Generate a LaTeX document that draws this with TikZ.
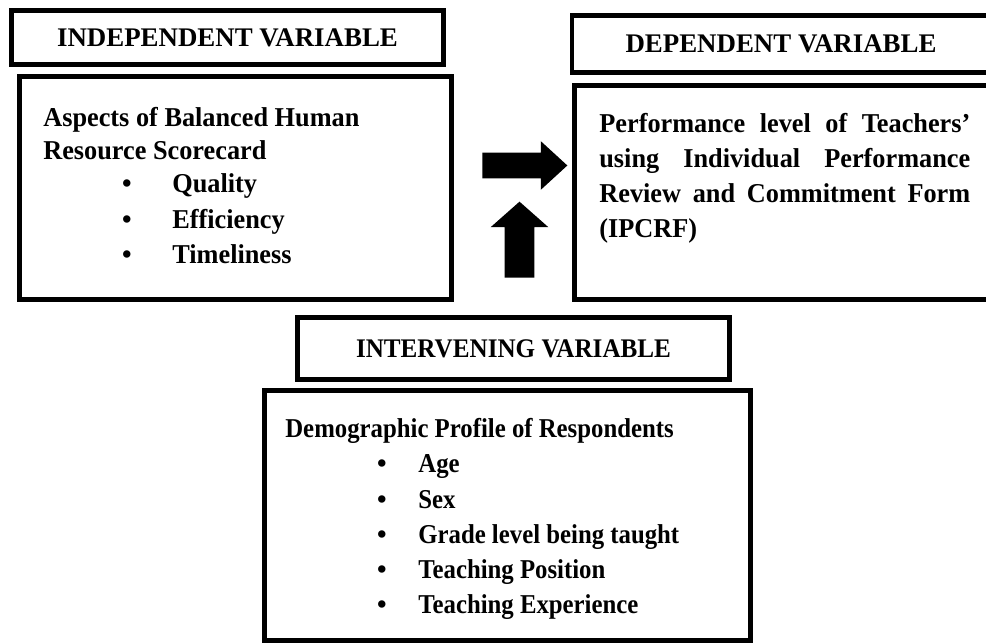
\documentclass[tikz,border=0pt]{standalone}
\usepackage{fontspec}
\setmainfont{Liberation Serif}
\newfontfamily\bodyfont[Ligatures=TeX,FakeStretch=0.965]{Liberation Serif}
\newfontfamily\narrowfont[Ligatures=TeX,FakeStretch=0.91]{Liberation Serif}
\newfontfamily\narrowhead[Ligatures=TeX,FakeStretch=0.935]{Liberation Serif}
\usetikzlibrary{shapes.arrows}

\begin{document}
\begin{tikzpicture}[x=0.02cm,y=-0.02cm,
  box/.style={draw,line width=2.6pt,inner sep=0pt},
  title/.style={font=\fontsize{15.3}{18}\selectfont\bfseries},
  txt/.style={font=\bodyfont\fontsize{15.5}{19.8}\selectfont\bfseries,inner sep=0pt,anchor=base west},
  ntxt/.style={txt,font=\narrowfont\fontsize{15.5}{19.8}\selectfont\bfseries},
  bul/.style={font=\fontsize{15.5}{19.8}\selectfont\bfseries,inner sep=0pt,anchor=base},
  blk/.style={single arrow,fill=black,inner xsep=0pt,text height=0pt,text depth=0pt,anchor=tail}]
  \useasboundingbox (0,0) rectangle (986,644);
  \clip (0,0) rectangle (986,644);

  % heading boxes
  \node[box,title,minimum width=8.64cm,minimum height=1.08cm] (indHead) at (227.5,37.5) {INDEPENDENT VARIABLE};
  \node[box,title,minimum width=8.36cm,minimum height=1.14cm] (depHead) at (781,44) {DEPENDENT VARIABLE};
  \node[box,title,font=\narrowhead\fontsize{15.3}{18}\selectfont\bfseries,minimum width=8.64cm,
    minimum height=1.24cm] (intHead) at (513.5,348.5) {INTERVENING VARIABLE};

  % content boxes
  \node[box,minimum width=8.64cm,minimum height=4.46cm] (indBody) at (235.5,188) {};
  \node[box,minimum width=8.41cm,minimum height=4.28cm] (depBody) at (784.75,192.5) {};
  \node[box,minimum width=9.72cm,minimum height=5cm] (intBody) at (507.5,515.5) {};

  % independent variable
  \node[txt] (aspA) at (43,127) {Aspects of Balanced Human};
  \node[txt] (aspB) at (43,160) {Resource Scorecard};
  \foreach \y/\name/\item in {193/qual/Quality, 229/eff/Efficiency, 264/time/Timeliness}
  {
    \node[bul] at (127,\y) {\textbullet};
    \node[txt] (\name) at (172,\y) {\item};
  }

  % dependent variable
  \node[txt,text width=7.42cm,align=justify] (perf) at (599,133)
    {Performance level of Teachers'\linebreak using Individual Performance\linebreak Review and Commitment Form\linebreak (IPCRF)};

  % intervening variable
  \node[ntxt] (demo) at (285,438) {Demographic Profile of Respondents};
  \foreach \y/\name/\item in {473/age/Age, 508/sex/Sex, 543/grade/Grade level being taught,
      578/pos/Teaching Position, 613/exp/Teaching Experience}
  {
    \node[bul] at (382,\y) {\textbullet};
    \node[ntxt] (\name) at (418,\y) {\item};
  }

  % block arrows
  \node[blk,inner ysep=0.25cm,minimum height=1.7cm,minimum width=0.96cm,
    single arrow head extend=0.23cm,single arrow tip angle=85] (toDep) at (482,165.5) {};
  \node[blk,rotate=90,inner ysep=0.29cm,minimum height=1.52cm,minimum width=1.14cm,
    single arrow head extend=0.28cm,single arrow tip angle=97] (fromInt) at (519.5,278) {};
\end{tikzpicture}
\end{document}
